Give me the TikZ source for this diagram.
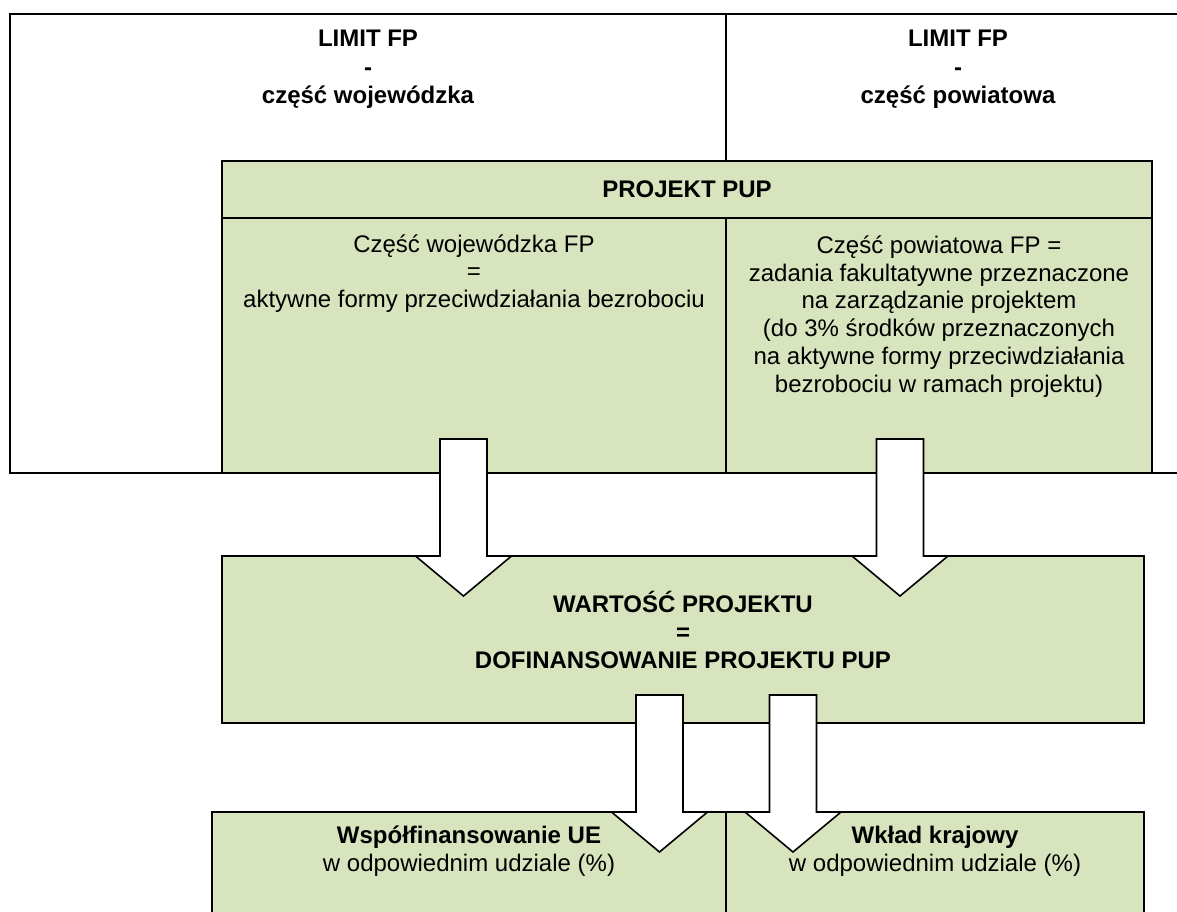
\documentclass[tikz,border=0pt]{standalone}
\usepackage{fontspec}
\setmainfont{Liberation Sans}
\definecolor{boxgreen}{HTML}{D7E4BD}
\begin{document}
\begin{tikzpicture}[x=1pt,y=-1pt,line width=1.6pt,line join=miter,
  greenbox/.style={draw=black,fill=boxgreen},
  whitebox/.style={draw=black,fill=white},
  txt/.style={align=center,inner sep=0pt,font=\fontsize{24}{27.8}\selectfont},
  btxt/.style={align=center,inner sep=0pt,font=\fontsize{24}{27.8}\selectfont\bfseries},
  ltxt/.style={align=center,inner sep=0pt,font=\fontsize{24}{28.6}\selectfont\bfseries},
  pics/downarrow/.style={code={
    \draw[fill=white] (-23.5,0) -- (23.5,0) -- (23.5,117) -- (48,117) -- (0,157)
      -- (-48,117) -- (-23.5,117) -- cycle;}}]
\path[use as bounding box,clip] (0,0) rectangle (1177,911);
% outer limit frame
\draw[whitebox] (10,14) rectangle (1195,473);
\draw (726,14) -- (726,161);
% PROJEKT PUP box
\draw[greenbox] (222,161) rectangle (1152,473);
\draw (222,218) -- (1152,218);
\draw (726,218) -- (726,473);
% WARTOSC box
\draw[greenbox] (222,556) rectangle (1144,723);
% bottom boxes
\draw[greenbox] (212,812) rectangle (726,930);
\draw[greenbox] (726,812) rectangle (1144,930);
% texts
\node[ltxt] (limw) at (368,69.5) {LIMIT FP\\-\\część wojewódzka};
\node[ltxt] (limp) at (958,69.5) {LIMIT FP\\-\\część powiatowa};
\node[btxt] (proj) at (687,189) {PROJEKT PUP};
\node[txt] (czw) at (474,273.5) {Część wojewódzka FP\\=\\aktywne formy przeciwdziałania bezrobociu};
\node[txt] (czp) at (939,316.5) {Część powiatowa FP =\\zadania fakultatywne przeznaczone\\na zarządzanie projektem\\(do 3\% środków przeznaczonych\\na aktywne formy przeciwdziałania\\bezrobociu w ramach projektu)};
\node[btxt] (wart) at (683,630) {WARTOŚĆ PROJEKTU\\=\\DOFINANSOWANIE PROJEKTU PUP};
\node[txt] (ue) at (469,851.5) {\textbf{Współfinansowanie UE}\\w odpowiednim udziale (\%)};
\node[txt] (kraj) at (935,851.5) {\textbf{Wkład krajowy}\\w odpowiednim udziale (\%)};
% block arrows
\pic at (463.5,439) {downarrow};
\pic at (900,439) {downarrow};
\pic at (659.5,695) {downarrow};
\pic at (793,695) {downarrow};
\end{tikzpicture}
\end{document}
